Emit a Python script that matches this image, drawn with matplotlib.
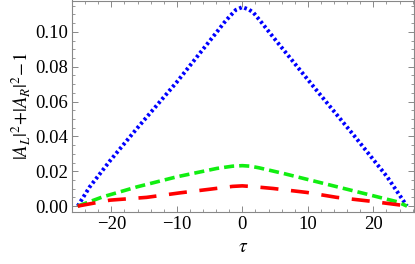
import matplotlib
matplotlib.use("Agg")
import matplotlib.pyplot as plt
from matplotlib.ticker import MultipleLocator, FixedLocator

# data
tau_blue = [-25.13, -23.3, -20.2, -16.1, -10.0, -3.9, -2.8, -1.9, -1.0, 0.0, 1.0, 1.7, 2.8, 4.7, 10.9, 17.0, 22.1, 25.13]
val_blue = [0.0, 0.011, 0.026, 0.0445, 0.0712, 0.0999, 0.1052, 0.1090, 0.1126, 0.1142, 0.1128, 0.1110, 0.1060, 0.097, 0.0684, 0.0407, 0.0168, 0.0]

tau_green = [-25.13, -21.3, -16.1, -10.0, -3.9, -1.5, 0.0, 1.2, 2.5, 6.3, 12.4, 18.5, 23.6, 25.13]
val_green = [0.0, 0.0053, 0.011, 0.0168, 0.0216, 0.0229, 0.0232, 0.0229, 0.0220, 0.0187, 0.013, 0.0073, 0.0025, 0.0]

tau_red = [-25.13, -20.2, -14.6, -9.5, -4.9, -1.5, 0.0, 1.5, 4.7, 9.9, 14.4, 19.3, 24.1, 25.13]
val_red = [0.0, 0.0034, 0.005, 0.0076, 0.0097, 0.0113, 0.0116, 0.0112, 0.0101, 0.0078, 0.005, 0.0029, 0.0006, 0.0]

xticks = [-20, -10, 0, 10, 20]
yticks = [0.00, 0.02, 0.04, 0.06, 0.08, 0.10]

plt.rcParams['font.family'] = ['Liberation Serif', 'DejaVu Serif']
plt.rcParams['mathtext.fontset'] = 'stix'

fig = plt.figure(figsize=(4.15, 2.64), dpi=100)
ax = fig.add_axes([72/415, 1 - 212/264, (414-72)/415, (212-0.5)/264])

ax.plot(tau_blue, val_blue, color='#0000ff', lw=2.8, linestyle=(0, (0.7, 0.7)))
ax.plot(tau_green, val_green, color='#11ee11', lw=2.6, linestyle=(0, (2.8, 1.4)))
ax.plot(tau_red, val_red, color='#ff0000', lw=2.6, linestyle=(0, (5, 3.5)))

ax.set_xlim(-26.0, 26.2)
ax.set_ylim(-0.0034, 0.118)

ax.xaxis.set_major_locator(FixedLocator(xticks))
ax.yaxis.set_major_locator(FixedLocator(yticks))
ax.xaxis.set_minor_locator(MultipleLocator(2))
ax.yaxis.set_minor_locator(MultipleLocator(0.005))
ax.set_xticklabels(['\u221220', '\u221210', '0', '10', '20'])
ax.set_yticklabels(['%.2f' % v for v in yticks])

for s in ax.spines.values():
    s.set_color('#888888')
    s.set_linewidth(0.8)
ax.tick_params(which='both', direction='in', top=True, right=True, color='#888888', labelsize=13.5, labelcolor='black')
ax.tick_params(which='major', length=4, width=0.7, pad=3)
ax.tick_params(which='minor', length=2, width=0.6)

ax.set_xlabel(r'$\tau$', fontsize=14, labelpad=4)
ax.set_ylabel(r'$|A_L|^2\!+\!|A_R|^2\!-\!1$', fontsize=13.5, labelpad=2)

fig.savefig('out.png', dpi=100)
